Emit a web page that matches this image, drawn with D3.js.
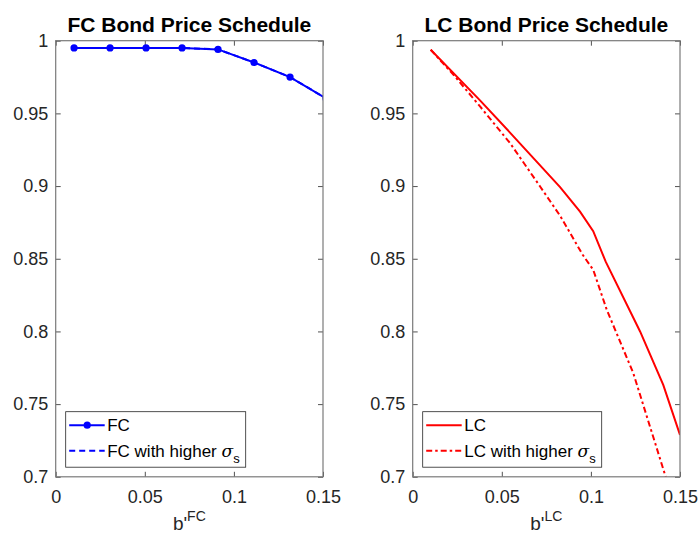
<!DOCTYPE html>
<html>
<head>
<meta charset="utf-8">
<script src="https://cdn.jsdelivr.net/npm/d3@7"></script>
<style>
  body { margin: 0; background: #fff; }
  svg { display: block; font-family: "Liberation Sans", Arial, Helvetica, sans-serif; }
</style>
</head>
<body>
<svg id="chart" width="699" height="535"></svg>
<script>

// FC bond price schedule (markers on the grid points)
var fcX = [0.0103, 0.0305, 0.0507, 0.0709, 0.0911, 0.1113, 0.1315, 0.1517];
var fcY = [0.995, 0.995, 0.995, 0.995, 0.994, 0.985, 0.975, 0.9603];
// higher sigma_s: sits right under the FC line
var fcHighY = [0.995, 0.995, 0.995, 0.995, 0.994, 0.985, 0.975, 0.9603];

// LC bond price schedule
var lcX = [0.0101, 0.0379, 0.0546, 0.0827, 0.0939, 0.1013, 0.1083, 0.1276, 0.1406, 0.15];
var lcY = [0.9938, 0.9588, 0.9368, 0.8993, 0.8824, 0.8690, 0.8480, 0.8000, 0.7632, 0.7288];
var lcHighX = [0.0101, 0.0237, 0.0379, 0.0546, 0.0715, 0.0827, 0.0954, 0.1013, 0.1089, 0.1238, 0.1416, 0.1445];
var lcHighY = [0.9938, 0.9754, 0.9546, 0.9296, 0.8997, 0.8796, 0.8527, 0.8424, 0.8149, 0.7713, 0.7014, 0.690];

var xTicks = [0, 0.05, 0.1, 0.15];
var yTicks = [0.7, 0.75, 0.8, 0.85, 0.9, 0.95, 1];

var svg = d3.select("#chart");
var plotTop = 40.7, plotBottom = 476.8;

var panels = [
    {
        id: "fc", left: 55.7, right: 323, title: "FC Bond Price Schedule", sup: "FC",
        color: "#0000ff",
        series: [
            { x: fcX, y: fcHighY, dash: "6,4", marker: false, label: "FC with higher " },
            { x: fcX, y: fcY, dash: null, marker: true, label: "FC" }
        ],
        legendOrder: [1, 0], legendWidth: 180
    },
    {
        id: "lc", left: 412.7, right: 680, title: "LC Bond Price Schedule", sup: "LC",
        color: "#ff0000",
        series: [
            { x: lcHighX, y: lcHighY, dash: "6,3,2.5,3", marker: false, label: "LC with higher " },
            { x: lcX, y: lcY, dash: null, marker: false, label: "LC" }
        ],
        legendOrder: [1, 0], legendWidth: 179
    }
];

panels.forEach(function (p) {
    var x = d3.scaleLinear().domain([0, 0.15]).range([p.left, p.right]);
    var y = d3.scaleLinear().domain([0.7, 1]).range([plotBottom, plotTop]);

    var g = svg.append("g").attr("class", p.id);

    g.append("clipPath").attr("id", "clip-" + p.id)
        .append("rect")
        .attr("x", p.left).attr("y", plotTop)
        .attr("width", p.right - p.left).attr("height", plotBottom - plotTop);

    // inward ticks on all four sides, like matlab
    var axColor = "#262626";
    g.append("g")
        .attr("transform", "translate(0," + plotBottom + ")")
        .call(d3.axisBottom(x).tickValues(xTicks).tickSizeInner(-5).tickSizeOuter(0)
            .tickPadding(13).tickFormat(d3.format("~g")));
    g.append("g")
        .attr("transform", "translate(0," + plotTop + ")")
        .call(d3.axisTop(x).tickValues(xTicks).tickSizeInner(-5).tickSizeOuter(0).tickFormat(""));
    g.append("g")
        .attr("transform", "translate(" + p.left + ",0)")
        .call(d3.axisLeft(y).tickValues(yTicks).tickSizeInner(-5).tickSizeOuter(0)
            .tickPadding(7.5).tickFormat(d3.format("~g")));
    g.append("g")
        .attr("transform", "translate(" + p.right + ",0)")
        .call(d3.axisRight(y).tickValues(yTicks).tickSizeInner(-5).tickSizeOuter(0).tickFormat(""));

    g.selectAll(".domain").remove();
    g.selectAll(".tick line").attr("stroke", axColor).attr("stroke-width", 0.8);
    g.selectAll(".tick text").attr("fill", "#262626").style("font-size", "18px")
        .style("font-family", "'Liberation Sans', Arial, sans-serif");

    // data lines
    var plot = g.append("g").attr("clip-path", "url(#clip-" + p.id + ")");
    p.series.forEach(function (s) {
        var pts = s.x.map(function (d, i) { return [d, s.y[i]]; });
        var line = d3.line().x(function (d) { return x(d[0]); }).y(function (d) { return y(d[1]); });
        plot.append("path")
            .attr("d", line(pts))
            .attr("fill", "none")
            .attr("stroke", p.color)
            .attr("stroke-width", 2)
            .attr("stroke-dasharray", s.dash);
        if (s.marker) {
            plot.selectAll(null).data(pts).enter().append("circle")
                .attr("cx", function (d) { return x(d[0]); })
                .attr("cy", function (d) { return y(d[1]); })
                .attr("r", 3.6)
                .attr("fill", p.color);
        }
    });

    // box
    g.append("rect")
        .attr("x", p.left).attr("y", plotTop)
        .attr("width", p.right - p.left).attr("height", plotBottom - plotTop)
        .attr("fill", "none").attr("stroke", "#7a7a7a").attr("stroke-width", 1.2);

    // title
    g.append("text")
        .attr("x", (p.left + p.right) / 2).attr("y", 31.7)
        .attr("text-anchor", "middle")
        .style("font-size", "21px").style("font-weight", "bold")
        .text(p.title);

    // x label b'^{FC}
    var xl = g.append("text")
        .attr("x", (p.left + p.right) / 2).attr("y", 530)
        .attr("text-anchor", "middle")
        .attr("fill", "#262626")
        .style("font-size", "19px");
    xl.append("tspan").text("b'");
    xl.append("tspan").attr("dy", -9).style("font-size", "14px").text(p.sup);

    // legend
    var lx = p.left + 10, ly = 411.7;
    var lg = g.append("g");
    lg.append("rect")
        .attr("x", lx).attr("y", ly)
        .attr("width", p.legendWidth).attr("height", 55.5)
        .attr("fill", "#fff").attr("stroke", "#262626").attr("stroke-width", 0.8);
    p.legendOrder.forEach(function (k, row) {
        var s = p.series[k];
        var cy = ly + 13.5 + row * 25.5;
        lg.append("line")
            .attr("x1", lx + 3.5).attr("x2", lx + 39)
            .attr("y1", cy).attr("y2", cy)
            .attr("stroke", p.color).attr("stroke-width", 2)
            .attr("stroke-dasharray", s.dash);
        if (s.marker) {
            lg.append("circle").attr("cx", lx + 21.5).attr("cy", cy).attr("r", 3.6).attr("fill", p.color);
        }
        var t = lg.append("text")
            .attr("x", lx + 41.5).attr("y", cy + 6)
            .attr("fill", "#000")
            .style("font-size", "17px")
            .text(s.label);
        if (s.marker === false && row === 1) {
            t.append("tspan").style("font-family", "'DejaVu Serif', serif").style("font-style", "italic")
                .text("\u03C3");
            t.append("tspan").attr("dy", 6).style("font-size", "13px").text("s");
        }
    });
});

</script>
</body>
</html>
